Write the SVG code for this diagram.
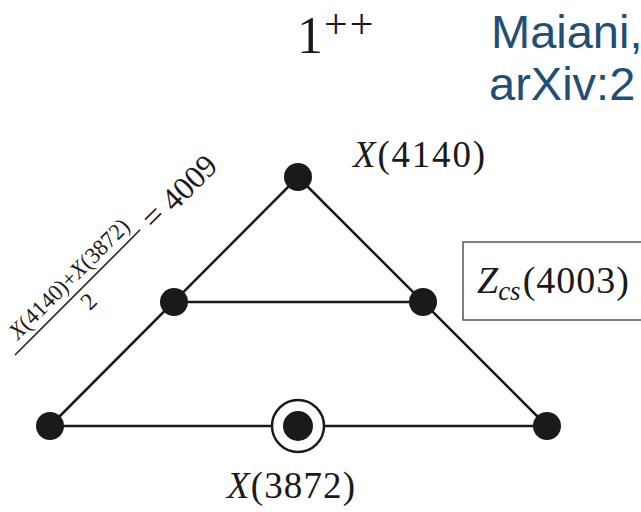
<svg xmlns="http://www.w3.org/2000/svg" width="641" height="512" viewBox="0 0 641 512">
<style>
.m{font-family:"Liberation Serif","DejaVu Serif",serif;fill:#1a1a1a}
.i{font-style:italic}
.e{stroke:#1a1a1a;stroke-width:2.5;fill:none}
.d{fill:#1a1a1a}
.b{font-family:"Liberation Sans",Arial,sans-serif;fill:#1F4E79;font-size:47px}
</style>
<rect width="641" height="512" fill="#ffffff"/>
<text class="m" x="297" y="53" font-size="52">1</text>
<text class="m" x="324" y="38" font-size="42" letter-spacing="2">++</text>
<text class="b" x="491" y="48">Maiani,</text>
<text class="b" x="489" y="100">arXiv:2</text>
<g id="connectors">
<line class="e" x1="298" y1="177" x2="50" y2="426"/>
<line class="e" x1="298" y1="177" x2="547" y2="426"/>
<line class="e" x1="174" y1="302" x2="423" y2="302"/>
<line class="e" x1="50" y1="426" x2="547" y2="426"/>
</g>
<g id="n-top"><circle class="d" cx="298" cy="177" r="14"/>
<text class="m" x="353" y="167" font-size="37" textLength="132" lengthAdjust="spacing"><tspan class="i">X</tspan>(4140)</text></g>
<g id="n-ml"><circle class="d" cx="174" cy="302" r="14"/></g>
<g id="n-mr"><circle class="d" cx="423" cy="302" r="14"/></g>
<g id="n-bl"><circle class="d" cx="50" cy="426" r="14"/></g>
<g id="n-bm"><circle cx="298" cy="426" r="26" fill="#ffffff" stroke="#1a1a1a" stroke-width="2.5"/><circle class="d" cx="298" cy="426" r="15"/>
<text class="m" x="227" y="498" font-size="37" textLength="128" lengthAdjust="spacing"><tspan class="i">X</tspan>(3872)</text></g>
<g id="n-br"><circle class="d" cx="547" cy="426" r="14"/></g>
<g id="zcs">
<rect x="463" y="242" width="190" height="78" fill="#ffffff" stroke="#555" stroke-width="1.5"/>
<text class="m" x="477" y="293" font-size="38"><tspan class="i">Z</tspan><tspan class="i" font-size="27" dy="7">cs</tspan><tspan dy="-7" dx="2" letter-spacing="1">(4003)</tspan></text>
</g>
<g id="avg" transform="translate(15,355) rotate(-45)">
<line x1="0" y1="0" x2="177" y2="0" stroke="#1a1a1a" stroke-width="1.5"/>
<text class="m" x="12" y="-8" font-size="23" textLength="160" lengthAdjust="spacingAndGlyphs"><tspan class="i">X</tspan>(4140)+<tspan class="i">X</tspan>(3872)</text>
<text class="m" x="90" y="22" font-size="24" text-anchor="middle">2</text>
<text class="m" x="186" y="11" font-size="34">=</text>
<text class="m" x="213" y="12" font-size="32">4009</text>
</g>
</svg>
